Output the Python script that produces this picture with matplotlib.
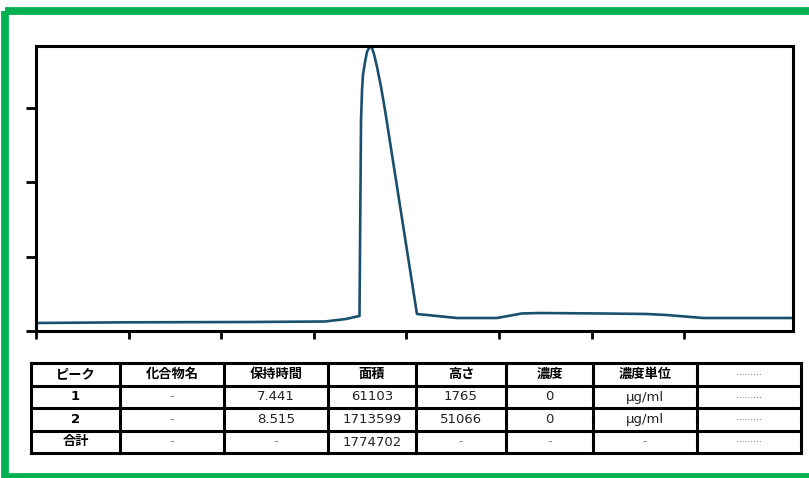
import matplotlib
matplotlib.use("Agg")
from matplotlib import pyplot as plt
from matplotlib.patches import Rectangle
import numpy as np

plt.rcParams['font.family'] = ['DejaVu Sans', 'Noto Sans CJK JP']

# chromatogram trace (time in min, signal in arbitrary units)
time_min = [5.0, 6.015, 7.31, 8.12, 8.34, 8.4935, 8.499, 8.510, 8.521, 8.531,
            8.553, 8.574, 8.607, 8.628, 8.650, 8.683, 8.726, 8.769, 9.114,
            9.546, 9.978, 10.248, 10.443, 11.09, 11.598, 11.814, 12.203, 13.175]
signal = [0.108, 0.117, 0.121, 0.128, 0.16, 0.202, 1.090, 2.840, 3.244, 3.445,
          3.620, 3.755, 3.836, 3.809, 3.728, 3.553, 3.284, 2.974, 0.229,
          0.175, 0.175, 0.236, 0.242, 0.236, 0.229, 0.215, 0.175, 0.175]
x_ticks = [5, 6, 7, 8, 9, 10, 11, 12]
y_ticks = [0, 1, 2, 3]

# peak table
headers = ['ピーク', '化合物名', '保持時間', '面積', '高さ', '濃度', '濃度単位', '.........']
rows = [
    ['1', '-', '7.441', '61103', '1765', '0', 'µg/ml', '.........'],
    ['2', '-', '8.515', '1713599', '51066', '0', 'µg/ml', '.........'],
    ['合計', '-', '-', '1774702', '-', '-', '-', '.........'],
]

W, H = 809, 478
fig = plt.figure(figsize=(W / 100, H / 100), dpi=100)

# chart area in pixels
left, right, top, bottom = 36, 793, 46, 331
ax = fig.add_axes([left / W, 1 - bottom / H, (right - left) / W, (bottom - top) / H])
ax.plot(time_min, signal, color='#1b4f6e', lw=1.9, solid_joinstyle='round')
ax.set_xlim(5.0, 13.175)
ax.set_ylim(0, 3.836)
ax.set_xticks(x_ticks)
ax.set_yticks(y_ticks)
ax.set_xticklabels([])
ax.set_yticklabels([])
ax.tick_params(axis='x', direction='out', length=5.8, width=2.0, color='black')
ax.tick_params(axis='y', direction='out', length=7.2, width=2.0, color='black')
for sp in ax.spines.values():
    sp.set_linewidth(2.2)
    sp.set_color('black')

# overlay in pixel coordinates for the frame and the table
ov = fig.add_axes([0, 0, 1, 1], zorder=-1)
ov.set_xlim(0, W)
ov.set_ylim(H, 0)
ov.axis('off')

ov.add_patch(Rectangle((5.5, 11), 900, 466, fill=False, edgecolor='#00b050',
                       lw=5.6, clip_on=False))

col_edges = [31, 120, 224, 328, 416, 506, 593, 697, 801]
row_edges = [363, 386, 408, 431, 453]

for y in row_edges:
    ov.plot([col_edges[0], col_edges[-1]], [y, y], color='black', lw=2.2,
            solid_capstyle='projecting')
for x in col_edges:
    ov.plot([x, x], [row_edges[0], row_edges[-1]], color='black', lw=2.2,
            solid_capstyle='projecting')

def draw_row(cells, r, header=False):
    yc = (row_edges[r] + row_edges[r + 1]) / 2
    for c, txt in enumerate(cells):
        xc = (col_edges[c] + col_edges[c + 1]) / 2
        if txt.startswith('....'):
            ov.text(xc, yc - 2, txt, ha='center', va='center', fontsize=6.5,
                    color='#444444')
            continue
        bold = header or c == 0
        color = '#888888' if txt == '-' else ('black' if bold else '#222222')
        ov.text(xc, yc, txt, ha='center', va='center', fontsize=9.5,
                fontweight='bold' if bold else 'normal', color=color)

draw_row(headers, 0, header=True)
for i, row in enumerate(rows):
    draw_row(row, i + 1)

fig.savefig('out.png', dpi=100)
